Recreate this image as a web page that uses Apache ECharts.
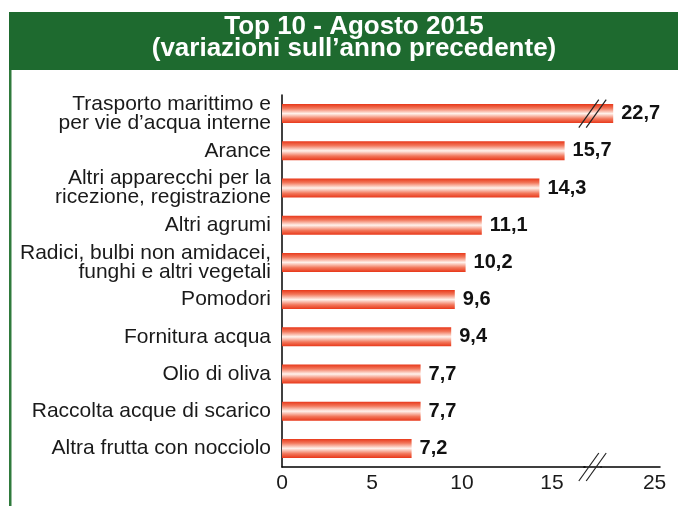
<!DOCTYPE html>
<html>
<head>
<meta charset="utf-8">
<script src="https://cdn.jsdelivr.net/npm/echarts@6.0.0/dist/echarts.min.js"></script>
<style>
  html, body { margin: 0; padding: 0; background: #fff; }
  #chart { width: 678px; height: 506px; }
</style>
</head>
<body>
<div id="chart"></div>
<script>
// data
const categories = [
  "Trasporto marittimo e\nper vie d\u2019acqua interne",
  "Arance",
  "Altri apparecchi per la\nricezione, registrazione",
  "Altri agrumi",
  "Radici, bulbi non amidacei,\nfunghi e altri vegetali",
  "Pomodori",
  "Fornitura acqua",
  "Olio di oliva",
  "Raccolta acque di scarico",
  "Altra frutta con nocciolo"
];
const values = [22.7, 15.7, 14.3, 11.1, 10.2, 9.6, 9.4, 7.7, 7.7, 7.2];
const tickValues = [0, 5, 10, 15, 25];

const FONT = "'Liberation Sans', Arial, sans-serif";
const GREEN = "#1e6a2f";

const chart = echarts.init(document.getElementById("chart"));

const option = {
  animation: false,
  grid: { left: 282, right: 18, top: 95, bottom: 39 },
  xAxis: {
    type: "value",
    min: 0,
    max: 25.3,
    breaks: [{ start: 16.8, end: 22, gap: 0.9 }],
    breakArea: { show: false },
    axisLine: { show: true, lineStyle: { color: "#000", width: 1.5 } },
    axisTick: { show: false },
    splitLine: { show: false },
    axisLabel: {
      customValues: tickValues,
      color: "#1a1a1a",
      fontSize: 21,
      fontFamily: FONT,
      margin: 6
    }
  },
  yAxis: {
    type: "category",
    inverse: true,
    data: categories,
    axisLine: { show: true, lineStyle: { color: "#000", width: 1.5 } },
    axisTick: { show: false },
    axisLabel: {
      color: "#1a1a1a",
      fontSize: 21,
      fontFamily: FONT,
      lineHeight: 19,
      margin: 11
    }
  },
  series: [
    {
      type: "bar",
      data: values,
      barWidth: 19,
      itemStyle: {
        color: new echarts.graphic.LinearGradient(0, 0, 0, 1, [
          { offset: 0, color: "#e8381a" },
          { offset: 0.22, color: "#f2765a" },
          { offset: 0.5, color: "#fff2ec" },
          { offset: 0.78, color: "#f2765a" },
          { offset: 1, color: "#e8381a" }
        ])
      },
      label: {
        show: true,
        position: "right",
        distance: 8,
        color: "#111",
        fontSize: 20,
        fontWeight: "bold",
        fontFamily: FONT,
        formatter: (p) => String(p.value).replace(".", ",")
      }
    }
  ]
};

chart.setOption(option);

// title box, left border and the "//" break marks
const xa = chart.convertToPixel({ xAxisIndex: 0 }, 16.8);
const xb = chart.convertToPixel({ xAxisIndex: 0 }, 22);
const mid = (xa + xb) / 2;
const barY = chart.convertToPixel({ yAxisIndex: 0 }, categories[0]);
const axisY = 506 - 39;

function slashes(cx, cy) {
  return [-3.7, 3.7].map((d) => ({
    type: "line",
    z: 100,
    shape: { x1: cx + d - 10, y1: cy + 14, x2: cx + d + 10, y2: cy - 14 },
    style: { stroke: "#222", lineWidth: 1.2 }
  }));
}

chart.setOption({
  graphic: [
    { type: "rect", z: 0, shape: { x: 9, y: 12, width: 669, height: 58 }, style: { fill: GREEN } },
    { type: "rect", z: 0, shape: { x: 9, y: 70, width: 2.5, height: 436 }, style: { fill: "#2f7a3c" } },
    {
      type: "text",
      z: 10,
      style: {
        text: "Top 10 - Agosto 2015\n(variazioni sull\u2019anno precedente)",
        x: 354,
        y: 16,
        textAlign: "center",
        fill: "#fff",
        font: "bold 26px " + FONT,
        lineHeight: 22
      }
    },
    // keep the axis line continuous through the break
    {
      type: "line",
      z: 50,
      shape: { x1: xa - 1, y1: axisY, x2: xb + 1, y2: axisY },
      style: { stroke: "#000", lineWidth: 1.5 }
    },
    ...slashes(mid, barY),
    ...slashes(mid, axisY)
  ]
});
</script>
</body>
</html>
